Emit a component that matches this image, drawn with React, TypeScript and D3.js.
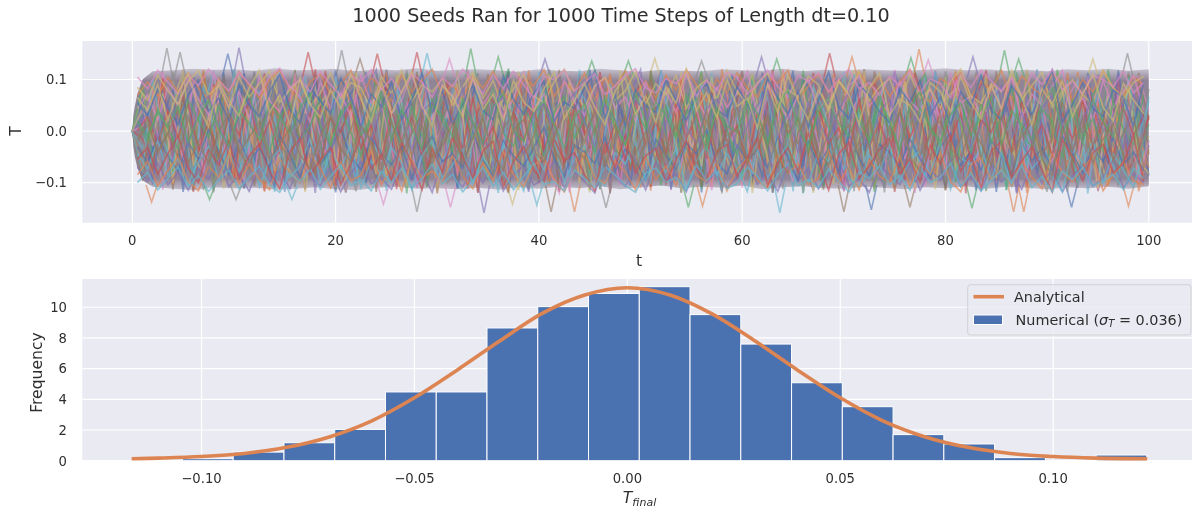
import React from "react";
import * as d3 from "d3";

const FONT = "'DejaVu Sans', sans-serif";
const deep = ["#4c72b0", "#dd8452", "#55a868", "#c44e52", "#8172b3", "#937860", "#da8bc3", "#8c8c8c", "#ccb974", "#64b5cd"];

// top panel: the 1000 runs can't be told apart in the picture, so these are
// hand typed stand-ins for the texture, not read values. thousandths of T, one sample per unit of t
const traces: number[][] = [
  [0,62,-41,88,12,-73,104,35,-96,58,-18,112,-64,27,91,-108,43,-5,76,-87,118,-32,66,-101,9,84,-55,107,-22,-93,71,15,-112,49,98,-67,-8,115,-44,81,-99,32,60,-84,104,-15,-70,93,21,-106,55,-37,110,-78,6,88,-119,40,74,-52,101,-25,-90,63,12,117,-69,36,-108,85,-11,95,-58,29,-97,112,-46,68,3,-83,107,-30,52,-115,79,18,-63,99,-39,87,-104,24,70,-76,113,-17,-92,46,60],
  [0,-55,78,-23,99,-88,17,64,-109,37,86,-61,-4,103,-79,52,20,-114,69,-33,95,-12,-82,110,41,-97,74,-48,8,116,-70,28,89,-105,57,-26,92,-118,44,13,-75,100,-59,31,83,-91,-6,108,-43,66,-110,25,94,-72,50,-19,113,-86,38,77,-102,-1,90,-54,119,-35,-95,61,16,-80,106,-46,73,-113,33,87,-20,-66,101,-98,47,10,-84,111,-57,29,72,-107,96,-14,-41,82,-74,115,-28,56,-93,39,68,-117,-35],
  [0,34,-83,101,-27,60,-94,116,5,-68,88,-111,42,71,-39,97,-76,19,108,-53,-100,63,30,-88,112,-16,51,-121,79,-44,93,2,-65,118,-85,36,75,-103,22,-58,105,-9,-92,67,47,-115,84,-31,99,-72,14,61,-106,90,-49,26,117,-81,-3,73,-98,54,107,-24,-69,95,-120,40,81,-12,-87,109,-51,35,-110,64,92,-77,18,-37,103,-89,58,11,-116,77,-42,114,-62,28,96,-100,45,-20,85,-71,119,-8,-94,53,-22],
  [0,-71,46,-104,84,-13,-59,111,-36,74,-90,25,98,-117,56,-2,89,-66,120,-43,17,-98,79,34,-75,107,-28,-85,62,104,-52,-10,95,-112,39,70,-87,114,-19,48,-101,83,6,-63,110,-34,91,-120,55,-77,23,102,-46,-92,68,15,-108,86,-29,59,116,-73,-5,97,-88,42,-56,113,-16,80,-103,31,-69,94,50,-118,7,76,-40,105,-83,22,-96,65,118,-48,-11,88,-109,37,72,-61,100,-27,-91,57,13,-79,109,-50,31],
  [0,18,92,-62,-33,107,-80,48,10,-99,77,-51,115,-24,-86,66,29,-113,96,-41,54,-7,-93,82,119,-60,16,-104,70,-31,100,44,-78,-15,112,-95,58,87,-49,-118,35,73,-21,106,-89,3,64,-108,98,-38,-74,51,117,-12,-84,90,26,-57,-111,78,40,-94,109,-26,67,-65,12,103,-82,45,-116,93,-3,60,-47,114,-71,32,-99,85,-19,55,-107,101,8,-68,75,-121,43,-35,97,-86,62,20,-102,110,-54,-4,84,-64,-72],
  [0,-88,25,69,-114,53,-40,96,-6,-77,118,-32,61,-103,85,14,-56,109,-91,38,72,-118,20,-47,101,-69,94,-11,57,-108,33,80,-96,115,-23,-64,49,-2,87,-110,76,-35,119,-55,9,-100,65,92,-79,28,-16,108,-61,83,-120,44,-89,99,-8,71,-42,-105,111,24,-76,56,88,-30,-114,95,-52,15,120,-66,37,-93,81,-1,-58,104,-115,47,69,-25,-85,116,-44,30,91,-78,-13,106,-101,59,-36,-70,82,4,-97,113,21],
  [0,41,-29,115,-72,8,86,-105,63,-46,102,20,-94,75,-17,-117,52,110,-59,27,-83,97,-36,68,-113,1,90,-74,43,117,-99,-20,81,55,-106,32,-67,103,-45,12,94,-87,60,-119,78,-28,111,-53,-9,85,-97,39,66,-115,104,-34,18,-81,92,49,-110,73,-22,-62,118,-6,-100,57,84,-41,-75,30,107,-92,15,-54,96,-120,70,37,-86,113,-10,-64,50,-103,88,23,-45,119,-79,-33,65,98,-112,42,-17,77,-88,108,40],
  [0,-44,107,-90,35,-12,74,-115,93,50,-67,21,116,-82,-38,89,-108,59,-4,-70,100,-119,46,83,-55,14,112,-98,67,-25,-84,105,-47,28,-119,79,6,-61,97,-33,-101,120,54,-76,17,88,-112,40,-52,109,-18,71,-95,26,-73,102,-40,65,-121,91,11,-83,114,-57,34,-104,78,-14,-68,99,52,-117,84,-29,-89,110,-5,-60,43,-97,117,19,-74,56,-111,95,-37,8,82,-65,-118,104,-24,48,-92,73,36,-107,115,-58,-28],
  [0,75,-12,-99,60,113,-47,-84,28,94,-109,70,-31,5,118,-63,-92,41,85,-21,-115,99,-54,16,76,-89,111,-3,-72,57,-116,33,92,-50,107,-80,24,-37,116,-94,61,10,-78,104,-27,-119,86,45,-64,2,97,-108,38,-85,115,-43,75,-11,-99,54,90,-120,22,-49,112,-71,31,83,-6,-103,67,119,-59,-15,94,-86,47,-112,73,-35,106,-77,13,62,-117,89,-23,-53,101,-9,-95,116,36,-66,78,-41,-105,51,93,-83,-9],
  [0,-33,58,-110,96,-20,-79,42,117,-56,7,-101,83,66,-118,30,-45,108,-13,-91,72,49,-106,115,-37,-70,91,17,-97,63,-120,39,110,-26,-83,74,-58,1,103,-112,55,87,-42,-16,119,-95,68,-30,-66,98,-5,-107,81,29,-118,60,-75,113,-46,19,-89,100,-23,-60,76,-117,44,-2,94,-80,115,-36,-99,58,23,-113,86,-51,108,-70,-18,92,-104,37,64,-8,-114,81,-28,111,-90,46,-56,105,-121,12,70,-43,97,-78,67],
  [0,51,-96,22,84,-118,66,-7,-52,113,-85,31,95,-43,-110,77,10,-69,106,-27,-119,58,88,-35,-92,119,-14,43,-77,101,-59,25,-111,90,-3,-86,68,114,-48,-19,99,-103,36,73,-65,119,-8,-90,52,-29,107,-72,84,-113,15,61,-96,40,-54,110,-1,-88,78,-120,33,-44,102,69,-93,13,-115,87,-39,56,-76,116,27,-100,64,-22,-109,96,-60,8,79,-118,48,-33,112,-84,19,-51,100,-95,72,-15,-63,118,-30,54,-86],
  [0,-66,14,97,-103,40,-58,119,-25,76,-94,4,88,-117,63,-38,109,-72,21,52,-110,94,-9,-80,70,114,-46,-99,35,82,-121,16,-61,105,-31,-89,92,47,-74,118,-12,-105,59,24,-95,86,-42,112,-67,-2,78,-116,50,97,-33,-84,65,-108,120,7,-56,89,-19,-101,43,73,-119,28,-64,111,-91,38,-6,85,-48,-113,104,-26,62,-83,15,117,-57,-98,74,32,-41,95,-120,9,83,-69,113,-18,-87,55,-107,39,90,-10,-71],
  [0,88,-52,11,-80,109,-34,60,-115,81,25,-93,104,-14,-62,47,116,-98,30,-71,87,-119,55,-6,92,-41,-84,113,18,-107,74,-25,-57,99,-10,-95,66,121,-50,-79,37,94,-116,8,61,-88,105,-22,-47,83,-100,116,33,-65,-13,90,-112,52,76,-31,-94,109,-58,2,68,-83,118,-39,-106,57,20,-72,97,-118,44,-4,-90,80,111,-53,26,-99,65,-17,-76,102,-115,35,91,-44,-68,119,-7,-103,59,84,-28,-82,107,-49,13],
  [0,-15,-78,103,-49,69,-118,26,91,-7,-100,57,-36,112,-87,44,79,-60,-20,117,-105,35,64,-92,10,86,-113,51,108,-68,-29,98,-83,19,-120,73,41,-55,106,-16,-91,84,-118,27,62,-74,115,-3,-96,49,93,-109,12,-43,101,-81,70,-24,-117,38,86,-63,-11,119,-86,54,-102,23,77,-45,-112,100,6,-70,89,-33,-95,113,42,-59,-21,108,-121,68,31,-78,94,-48,3,116,-92,60,-34,-110,87,15,-54,103,-75,-39,28],
  [0,29,-104,77,-60,118,-11,-89,53,96,-39,-112,70,18,-73,105,-48,34,-120,85,-2,61,-97,114,-26,-66,90,43,-109,13,82,-54,117,-91,22,-31,101,-76,67,-114,9,48,110,-85,-18,94,-59,36,-103,72,119,-42,-7,83,-118,56,-30,-92,98,16,-71,45,113,-96,-23,74,-55,-116,88,1,-82,106,30,-64,-110,93,-13,50,-88,117,-37,71,-101,24,-51,96,12,-119,79,-66,107,-20,44,-94,63,-3,-85,112,-47,75,-32],
  [0,-96,67,-38,3,90,-116,49,-70,108,-24,81,-107,15,58,-95,119,-44,-82,36,100,-63,-17,91,-118,72,28,-56,115,-88,-9,46,-101,79,-33,111,-69,-120,54,96,-26,8,-84,104,-52,67,-113,20,87,-40,-98,118,-15,-78,59,34,-106,92,-61,-4,111,-74,47,-119,83,-28,17,-93,102,-57,69,-10,-87,116,38,-109,-32,95,-68,7,-115,86,52,-44,108,-96,25,-60,117,-13,-81,73,-104,41,90,-117,-23,56,-71,101,-46],
  [0,9,84,-114,31,-55,98,-83,118,-21,62,-101,44,75,-68,-5,113,-92,27,-47,107,-119,70,-33,88,13,-80,59,-110,96,-16,39,-86,120,-62,-4,73,-97,52,-29,109,-75,-120,86,24,-58,97,-12,-104,65,40,-91,111,-49,-69,78,5,-115,56,-22,94,-82,33,116,-41,-99,71,15,-63,104,-118,48,81,-30,-90,119,-54,9,-108,62,-77,100,37,-20,-112,85,-46,68,-93,114,-1,-74,28,-60,106,-116,91,-35,47,-98,-19],
  [0,-60,39,-92,115,-4,-71,81,-119,47,23,-86,110,-53,95,-28,-109,66,12,-78,99,-40,-117,54,87,-15,-94,118,-67,32,76,-103,6,-49,112,-83,58,91,-36,-111,20,69,-56,102,-8,-98,83,-121,41,113,-30,-64,89,-18,-107,50,100,-75,26,-90,117,-46,-2,63,-113,79,-25,108,-84,-39,96,14,-70,52,-119,85,-11,103,-61,30,-100,74,-35,116,-93,57,-6,-81,109,-50,21,88,-118,66,-42,-13,97,-105,43,-67,82],
  [0,47,-19,73,-100,119,-65,-30,86,-112,15,58,-41,104,-79,-6,92,-118,37,68,-54,-96,114,25,-84,77,-12,-107,60,99,-35,-73,117,-50,8,-89,42,81,-115,30,-60,110,-22,95,-102,54,-3,-76,118,-44,71,-93,16,87,-119,35,-68,106,-27,-82,49,111,-10,-95,66,-56,90,-120,19,75,-34,-105,116,-72,43,-1,97,-86,28,-113,61,82,-48,-16,108,-91,37,-65,119,-24,-100,52,89,-77,10,-111,68,-38,94,-55,-83],
  [0,-82,101,-16,-64,46,-108,90,4,-75,120,-43,71,-98,33,-118,56,84,-27,-68,107,-11,-94,62,38,-116,93,-52,19,113,-77,-40,65,-100,87,-9,-120,50,28,-71,116,-57,3,-90,78,45,-111,98,-23,-59,68,-103,118,12,-85,34,92,-47,-117,74,-15,-69,105,20,-93,57,-121,86,41,-28,-78,110,-62,7,95,-104,53,-37,-88,115,-19,64,-97,31,-115,80,-5,47,-74,120,-58,-26,99,-109,16,72,-42,-91,103,-12,58],
];

// same idea, slower traces that stay near one level, sampled half way between the ones above
const slowTraces: number[][] = [
  [70,95,68,104,76,112,84,60,101,73,115,88,64,99,118,81,57,96,110,72,92,118,66,103,85,59,109,77,98,120,70,90,62,107,83,116,74,55,100,88,119,67,94,78,112,60,103,86,117,71,97,64,108,80,119,90,58,101,74,113,84,66,106,93,118,62,87,110,75,99,59,116,82,104,68,95,120,73,57,102,89,114,65,97,78,118,61,107,85,69,111,92,58,100,76,117,83,64,105,90],
  [-70,-98,-62,-104,-80,-115,-72,-93,-56,-108,-84,-117,-66,-99,-75,-112,-58,-89,-106,-69,-118,-82,-60,-102,-91,-113,-64,-96,-78,-119,-55,-87,-109,-73,-100,-61,-116,-85,-68,-105,-92,-57,-111,-79,-98,-120,-63,-88,-107,-74,-114,-59,-94,-83,-118,-67,-101,-76,-110,-90,-54,-103,-81,-117,-65,-97,-72,-112,-86,-58,-106,-93,-119,-70,-84,-104,-62,-115,-77,-95,-56,-108,-89,-116,-66,-99,-80,-113,-60,-102,-74,-118,-87,-69,-107,-91,-55,-110,-83,-100],
  [30,58,12,46,74,25,62,-4,39,80,18,55,33,71,6,49,86,22,60,37,-8,52,78,15,44,68,28,90,35,9,63,41,75,2,57,84,20,47,70,31,-6,54,88,26,42,65,11,77,36,59,93,17,50,73,24,45,-2,61,82,29,56,38,72,13,48,95,21,66,34,79,7,53,87,27,43,69,16,58,92,32,5,64,40,76,19,51,85,23,60,35,74,10,46,81,30,55,14,67,39,83],
  [-30,-62,-14,-48,-78,-22,-55,3,-40,-84,-17,-59,-33,-70,-7,-46,-90,-25,-64,-36,6,-51,-75,-13,-43,-66,-29,-92,-38,-10,-60,-44,-72,-1,-57,-86,-19,-49,-68,-32,8,-53,-88,-27,-41,-63,-12,-79,-35,-58,-95,-16,-47,-74,-23,-45,2,-61,-83,-28,-56,-37,-71,-11,-50,-96,-20,-65,-34,-80,-6,-52,-87,-26,-42,-69,-15,-54,-91,-31,-4,-67,-39,-76,-18,-48,-85,-24,-58,-33,-73,-9,-44,-82,-30,-60,-13,-66,-41,-77],
  [0,28,-25,40,-12,55,-38,16,-50,33,-8,62,-30,20,-45,48,-16,36,-60,25,-3,52,-34,12,-56,42,-22,30,-48,58,-10,26,-40,66,-28,8,-52,38,-18,46,-36,22,-64,50,-6,34,-44,14,-58,60,-26,18,-42,54,-14,32,-54,44,-20,10,-62,36,-32,56,-4,24,-46,48,-24,6,-50,64,-30,15,-38,40,-12,28,-56,52,-18,34,-60,22,-2,46,-42,58,-26,12,-48,35,-16,60,-34,20,-52,44,-8,30],
  [44,70,20,84,50,100,62,32,92,48,76,24,105,58,38,88,66,16,96,42,74,28,108,54,82,34,60,112,46,22,90,68,36,102,52,80,26,64,114,40,72,18,98,56,30,86,104,44,66,20,94,50,78,36,110,60,28,84,46,74,116,34,92,56,24,70,100,42,62,18,88,106,48,76,30,96,58,38,82,22,112,54,68,32,90,44,104,26,72,50,86,118,36,64,20,98,46,78,108,40],
  [-44,-74,-18,-86,-52,-102,-60,-30,-94,-46,-78,-22,-108,-56,-36,-90,-68,-14,-98,-40,-72,-26,-110,-58,-84,-32,-62,-114,-48,-20,-92,-66,-34,-104,-50,-82,-24,-70,-116,-38,-76,-16,-100,-54,-28,-88,-106,-42,-64,-22,-96,-52,-80,-34,-112,-58,-30,-86,-44,-72,-117,-36,-90,-54,-26,-68,-102,-40,-60,-16,-92,-108,-46,-78,-28,-98,-56,-38,-84,-20,-113,-52,-66,-32,-94,-42,-106,-24,-74,-48,-88,-118,-34,-62,-18,-100,-44,-76,-110,-38],
  [15,-20,42,5,-35,60,22,-12,50,-28,34,72,-6,-40,26,55,-18,10,66,-32,38,-2,-48,30,78,14,-24,46,-10,62,20,-38,54,-16,28,82,-4,-30,44,12,-52,36,68,-14,24,-42,58,6,-26,74,18,-36,48,-8,32,64,-20,40,2,-46,56,16,-30,70,-12,26,-44,50,8,-34,60,22,-18,76,-6,36,-50,44,10,-28,66,14,-40,52,-22,30,84,-2,-32,42,18,-54,62,-10,24,-38,56,4,-26,70],
  [-15,22,-44,-3,38,-62,-20,14,-52,30,-36,-74,8,42,-24,-58,20,-8,-68,34,-40,4,50,-28,-80,-12,26,-48,12,-64,-18,40,-56,18,-30,-84,6,32,-46,-10,54,-34,-70,16,-22,44,-60,-4,28,-76,-16,38,-50,10,-32,-66,22,-42,0,48,-58,-14,32,-72,14,-24,46,-52,-6,36,-62,-20,20,-78,8,-38,52,-46,-8,30,-68,-12,42,-54,24,-28,-86,4,34,-44,-16,56,-64,12,-26,40,-58,-2,28,-72],
  [85,60,108,78,52,96,118,70,88,44,104,66,92,116,56,80,100,48,74,112,62,94,84,40,106,72,118,58,90,76,102,50,86,114,64,98,42,82,110,68,54,96,120,74,46,88,104,60,78,116,52,92,70,108,44,84,100,62,118,76,56,94,112,48,80,66,106,90,38,98,72,116,58,86,102,50,110,64,82,44,96,120,68,54,92,76,108,60,88,114,46,78,100,70,52,118,84,62,94,106],
  [-85,-58,-106,-76,-50,-98,-116,-68,-90,-42,-102,-64,-94,-114,-54,-82,-100,-46,-72,-110,-60,-96,-86,-38,-104,-70,-116,-56,-92,-78,-100,-48,-88,-112,-62,-96,-40,-84,-108,-66,-52,-94,-118,-76,-44,-90,-102,-58,-80,-114,-50,-94,-68,-106,-42,-86,-98,-60,-116,-74,-54,-96,-110,-46,-82,-64,-104,-92,-36,-100,-70,-114,-56,-88,-100,-48,-108,-62,-84,-42,-98,-118,-66,-52,-94,-74,-106,-58,-90,-112,-44,-80,-98,-72,-50,-116,-86,-60,-96,-104],
  [8,36,-14,52,24,-28,44,68,10,-32,30,58,-8,42,78,16,-22,50,34,-40,20,64,4,-18,46,72,26,-36,38,56,-12,28,84,12,-26,48,66,2,-44,32,54,-6,40,76,18,-30,52,22,-16,60,36,-38,14,70,6,-24,44,62,28,-34,10,50,82,-10,34,-42,56,20,-20,42,74,0,-28,38,60,16,-46,30,48,-4,66,24,-32,12,54,88,-14,36,-22,46,68,8,-40,26,58,-2,32,-36,72,18],
  [-8,-38,12,-54,-22,30,-46,-70,-12,34,-28,-60,6,-44,-80,-14,24,-52,-32,42,-18,-66,-2,20,-48,-74,-24,38,-40,-58,14,-26,-86,-10,28,-50,-68,0,46,-30,-56,8,-42,-78,-16,32,-54,-20,18,-62,-34,40,-12,-72,-4,26,-46,-64,-26,36,-8,-52,-84,12,-32,44,-58,-18,22,-44,-76,2,30,-36,-62,-14,48,-28,-50,6,-68,-22,34,-10,-56,-90,16,-34,24,-48,-70,-6,42,-24,-60,4,-30,38,-74,-16],
  [55,30,82,46,12,70,98,38,64,20,90,50,28,76,110,42,16,84,58,34,102,66,8,72,48,94,24,60,112,36,78,14,52,88,40,22,106,62,32,74,96,18,56,44,84,116,26,68,10,80,50,36,100,58,20,72,92,42,28,86,54,14,104,64,34,78,6,60,114,46,24,90,70,38,16,82,56,98,30,66,12,76,48,108,40,22,88,60,32,74,118,18,52,94,44,28,80,64,10,96],
  [-55,-32,-84,-44,-10,-72,-100,-36,-66,-18,-92,-48,-26,-78,-112,-40,-14,-86,-56,-32,-104,-64,-6,-74,-46,-96,-22,-62,-114,-34,-80,-12,-50,-90,-38,-20,-108,-60,-30,-76,-98,-16,-58,-42,-86,-116,-24,-70,-8,-82,-48,-34,-102,-56,-18,-74,-94,-40,-26,-88,-52,-12,-106,-62,-32,-80,-4,-58,-115,-44,-22,-92,-68,-36,-14,-84,-54,-100,-28,-64,-10,-78,-46,-110,-38,-20,-90,-58,-30,-76,-118,-16,-50,-96,-42,-26,-82,-62,-8,-98],
  [105,82,118,95,72,110,88,120,98,78,114,92,70,106,122,84,100,76,116,90,68,108,96,119,80,102,74,112,94,66,104,86,120,98,72,110,82,116,90,64,106,100,118,78,94,112,70,88,108,121,84,74,102,92,116,68,98,80,114,104,72,90,118,86,66,108,96,112,76,100,120,82,94,70,106,88,117,74,102,92,64,110,84,118,98,78,104,68,112,90,120,80,96,72,108,100,86,116,74,94],
  [-100,-80,-114,-92,-70,-108,-86,-117,-96,-76,-112,-90,-68,-104,-119,-82,-98,-74,-113,-88,-66,-106,-94,-116,-78,-100,-72,-110,-92,-64,-102,-84,-118,-96,-70,-108,-80,-114,-88,-62,-104,-98,-116,-76,-92,-110,-68,-86,-106,-119,-82,-72,-100,-90,-114,-66,-96,-78,-112,-102,-70,-88,-116,-84,-64,-106,-94,-110,-74,-98,-118,-80,-92,-68,-104,-86,-115,-72,-100,-90,-62,-108,-82,-116,-96,-76,-102,-66,-110,-88,-118,-78,-94,-70,-106,-98,-84,-114,-72,-92],
  [20,-10,36,8,48,-22,26,60,2,-30,40,14,-16,54,28,-4,44,72,10,-26,34,56,-8,22,66,-18,42,6,-34,50,30,-12,62,16,-24,46,74,0,-20,38,58,12,-32,28,52,-6,68,18,-28,42,4,56,32,-14,70,24,-36,46,10,-2,60,34,-22,50,80,6,-30,38,64,14,-10,44,-26,58,20,-38,48,76,2,-18,32,54,-8,26,66,-28,40,12,-16,52,84,-4,36,-24,62,18,-12,46],
  [-20,12,-38,-6,-50,24,-24,-62,0,32,-42,-12,18,-56,-26,6,-46,-74,-8,28,-36,-58,10,-20,-68,20,-44,-4,36,-52,-28,14,-64,-14,26,-48,-76,2,22,-40,-60,-10,34,-30,-54,8,-70,-16,30,-44,-2,-58,-34,16,-72,-22,38,-48,-8,4,-62,-32,24,-52,-82,-4,32,-40,-66,-12,12,-46,28,-60,-18,40,-50,-78,0,20,-34,-56,10,-24,-68,30,-42,-10,18,-54,-86,6,-38,26,-64,-16,14,-48],
  [65,40,90,22,75,112,48,8,96,58,30,84,118,36,70,14,102,52,26,80,44,110,62,18,94,34,76,116,50,10,88,66,28,106,42,72,20,98,56,38,82,114,24,60,92,46,12,78,104,32,68,16,86,54,120,40,74,26,100,48,64,6,90,36,108,58,22,80,44,96,70,14,84,112,30,62,50,18,94,76,38,106,56,24,88,42,118,66,12,82,52,98,28,72,110,46,20,92,60,34],
];

// solid edge of the bundle of traces, every 2 units of t (thousandths)
const edgeT = d3.range(2, 101, 2);
const upperEdge = [116,118,121,119,120,117,122,118,119,121,116,120,118,122,117,119,120,118,115,120,117,116,121,118,115,119,117,116,120,118,117,121,116,119,117,120,118,117,119,122,118,120,117,119,116,120,118,121,117,120];
const lowerEdge = [-108,-112,-115,-109,-111,-110,-114,-112,-109,-113,-115,-110,-108,-112,-111,-113,-110,-114,-109,-112,-108,-111,-107,-113,-109,-106,-111,-108,-110,-106,-113,-109,-107,-111,-112,-108,-110,-113,-109,-111,-107,-112,-108,-110,-113,-109,-111,-108,-112,-107];
const startT = [0, 0.1, 0.25, 0.5, 1];
const startUpper = [0, 30, 48, 72, 100];
const startLower = [0, -30, -50, -72, -96];

// traces that leave the bundle: t, peak T, colour index
const spikes: [number, number, number][] = [
  [3.4,.161,7],[4.7,.153,7],[9.4,.15,0],[10.5,.162,4],[17.3,.153,3],[20.6,.157,7],[22.4,.14,5],[24.1,.15,3],
  [28,.153,3],[29,.151,9],[31.2,.14,6],[33.3,.16,2],[36,.144,2],[40.6,.14,4],[45.2,.136,2],[48.8,.136,2],[51.4,.141,8],[56,.136,7],[61.9,.144,4],[63.4,.14,2],
  [68.6,.151,3],[70.8,.144,1],[76.6,.142,2],[77.4,.159,1],[78.3,.138,6],[82.7,.144,4],[85.8,.157,2],[87.2,.14,2],[94.5,.14,8],[97.9,.151,7],
  [1.9,-.138,1],[7.6,-.133,2],[10.2,-.133,7],[15.7,-.133,9],[24.7,-.142,6],[28,-.157,7],[31.3,-.148,6],[34.6,-.159,4],[37.4,-.142,8],[39.8,-.144,9],
  [41.2,-.157,5],[43.5,-.157,1],[46.6,-.149,7],[54.7,-.148,2],[56.1,-.146,1],[63.7,-.159,9],[70,-.157,5],[72.7,-.153,0],[76.5,-.148,5],[82.6,-.15,2],
  [86.7,-.157,1],[87.7,-.157,1],[92.4,-.148,0],[98,-.146,1],
];

// bottom panel
const binStart = -0.1164;
const binWidth = 0.01192;
const binHeights = [0, 0.13, 0.56, 1.17, 2.04, 4.48, 4.48, 8.65, 10.04, 10.9, 11.34, 9.52, 7.6, 5.08, 3.52, 1.7, 1.09, 0.2, 0, 0.37];
const curveT = [-.1164,-.11,-.10,-.09,-.08,-.07,-.06,-.05,-.04,-.03,-.02,-.01,0,.01,.02,.03,.04,.05,.06,.07,.08,.09,.10,.11,.1221];
const curveF = [.13,.17,.27,.47,.87,1.55,2.6,4.1,5.9,7.8,9.6,10.8,11.27,10.8,9.55,7.8,5.9,4.1,2.6,1.55,.87,.47,.27,.17,.13];

const tTicks = [0, 20, 40, 60, 80, 100];
const TTicks = [-0.1, 0, 0.1];
const finalTicks = [-0.1, -0.05, 0, 0.05, 0.1];
const freqTicks = [0, 2, 4, 6, 8, 10];

const W = 1192;
const H = 510;
const LEFT = 82.3;
const PANEL = "#eaeaf2";
const INK = "#2e2e2e";

export default function App() {
  const xT = d3.scaleLinear().domain([-4.92, 104.25]).range([LEFT, W]);
  const yT = d3.scaleLinear().domain([-0.178, 0.1748]).range([222.7, 41]);
  const xF = d3.scaleLinear().domain([-0.128, 0.1326]).range([LEFT, W]);
  const yF = d3.scaleLinear().domain([0, 11.84]).range([460.7, 279]);

  const traceLine = d3.line<number>().x((_, i) => xT(i)).y(d => yT(d / 1000));
  const slowLine = d3.line<number>().x((_, i) => xT(i + 0.5)).y(d => yT(d / 1000));
  const band = d3.area<[number, number, number]>()
    .x(d => xT(d[0])).y0(d => yT(d[2] / 1000)).y1(d => yT(d[1] / 1000));
  const bandRows: [number, number, number][] = [
    ...startT.map((t, i): [number, number, number] => [t, startUpper[i], startLower[i]]),
    ...edgeT.map((t, i): [number, number, number] => [t, upperEdge[i], lowerEdge[i]]),
  ];
  const curve = d3.line<number>().x((_, i) => xF(curveT[i])).y(d => yF(d)).curve(d3.curveCatmullRom);
  const f1 = d3.format(".1f");
  const f2 = d3.format(".2f");

  return (
    <svg width={W} height={H} style={{ position: "absolute", left: 0, top: 0 }} fontFamily={FONT}>
      <defs>
        <filter id="soft" x="0" y="0" width="100%" height="100%">
          <feGaussianBlur stdDeviation="0.55" />
        </filter>
        <linearGradient id="bandFill" gradientUnits="userSpaceOnUse" x1={0} x2={0} y1={yT(0.122)} y2={yT(-0.116)}>
          <stop offset="0" stopColor="#8b7f92" stopOpacity={0.35} />
          <stop offset="0.1" stopColor="#8b7f92" stopOpacity={0.95} />
          <stop offset="0.9" stopColor="#8b7f92" stopOpacity={0.95} />
          <stop offset="1" stopColor="#8b7f92" stopOpacity={0.35} />
        </linearGradient>
      </defs>
      <rect width={W} height={H} fill="white" />
      <g filter="url(#soft)">
        <text x={621} y={22} textAnchor="middle" fontSize={19.2} fill={INK}>
          1000 Seeds Ran for 1000 Time Steps of Length dt=0.10
        </text>

        {/* top panel */}
        <rect x={LEFT} y={41} width={W - LEFT} height={181.7} fill={PANEL} />
        {tTicks.map(t => <line key={t} x1={xT(t)} x2={xT(t)} y1={41} y2={222.7} stroke="white" strokeWidth={1.2} />)}
        {TTicks.map(t => <line key={t} x1={LEFT} x2={W} y1={yT(t)} y2={yT(t)} stroke="white" strokeWidth={1.2} />)}
        <path d={band(bandRows) ?? ""} fill="url(#bandFill)" />
        {spikes.map(([t, v, c], i) => (
          <polyline
            key={i}
            points={`${xT(t - 0.55)},${yT(Math.sign(v) * 0.105)} ${xT(t)},${yT(v)} ${xT(t + 0.55)},${yT(Math.sign(v) * 0.105)}`}
            fill="none"
            stroke={deep[c]}
            strokeOpacity={0.6}
            strokeWidth={1.6}
          />
        ))}
        {traces.map((s, i) => (
          <path key={i} d={traceLine(s) ?? ""} fill="none" stroke={deep[i % 10]} strokeOpacity={0.6} strokeWidth={1.7} />
        ))}
        {slowTraces.map((s, i) => (
          <path key={i} d={slowLine(s) ?? ""} fill="none" stroke={deep[(i * 3 + 1) % 10]} strokeOpacity={0.65} strokeWidth={1.7} />
        ))}
        {tTicks.map(t => (
          <text key={t} x={xT(t)} y={245} textAnchor="middle" fontSize={13.2} fill={INK}>{t}</text>
        ))}
        {TTicks.map(t => (
          <text key={t} x={67} y={yT(t) + 4.8} textAnchor="end" fontSize={13.2} fill={INK}>{f1(t)}</text>
        ))}
        <text x={639} y={266} textAnchor="middle" fontSize={15.6} fill={INK}>t</text>
        <text transform={`translate(21,131) rotate(-90)`} textAnchor="middle" fontSize={15.6} fill={INK}>T</text>

        {/* bottom panel */}
        <rect x={LEFT} y={279} width={W - LEFT} height={181.7} fill={PANEL} />
        {finalTicks.map(t => <line key={t} x1={xF(t)} x2={xF(t)} y1={279} y2={460.7} stroke="white" strokeWidth={1.2} />)}
        {freqTicks.map(t => <line key={t} x1={LEFT} x2={W} y1={yF(t)} y2={yF(t)} stroke="white" strokeWidth={1.2} />)}
        {binHeights.map((h, i) => h > 0 && (
          <rect
            key={i}
            x={xF(binStart + i * binWidth)}
            y={yF(h)}
            width={xF(binStart + binWidth) - xF(binStart)}
            height={yF(0) - yF(h)}
            fill="#4c72b0"
            stroke="white"
            strokeWidth={1}
          />
        ))}
        <path d={curve(curveF) ?? ""} fill="none" stroke="#dd8452" strokeWidth={3.6} />
        {finalTicks.map(t => (
          <text key={t} x={xF(t)} y={483} textAnchor="middle" fontSize={13.2} fill={INK}>{f2(t)}</text>
        ))}
        {freqTicks.map(t => (
          <text key={t} x={67} y={yF(t) + 4.8} textAnchor="end" fontSize={13.2} fill={INK}>{t}</text>
        ))}
        <text transform={`translate(42,372.5) rotate(-90)`} textAnchor="middle" fontSize={15.6} fill={INK}>Frequency</text>
        <text x={639.5} y={503} textAnchor="middle" fontSize={15.6} fill={INK}>
          <tspan fontStyle="italic">T</tspan>
          <tspan fontStyle="italic" fontSize={11} dy={3}>final</tspan>
        </text>

        {/* legend */}
        <rect x={967.7} y={284.7} width={223.3} height={50.3} rx={3} fill={PANEL} fillOpacity={0.8} stroke="#cccccc" strokeOpacity={0.8} />
        <line x1={973.5} x2={1004} y1={296.7} y2={296.7} stroke="#dd8452" strokeWidth={3.6} />
        <rect x={973.5} y={315} width={29} height={9.5} fill="#4c72b0" stroke="white" strokeWidth={1} />
        <text x={1014} y={301.5} fontSize={14.4} fill={INK}>Analytical</text>
        <text x={1015.5} y={324.5} fontSize={14.4} fill={INK}>
          Numerical (
          <tspan fontStyle="italic">σ</tspan>
          <tspan fontStyle="italic" fontSize={10} dy={2}>T</tspan>
          <tspan dy={-2}> = 0.036)</tspan>
        </text>
      </g>
    </svg>
  );
}
